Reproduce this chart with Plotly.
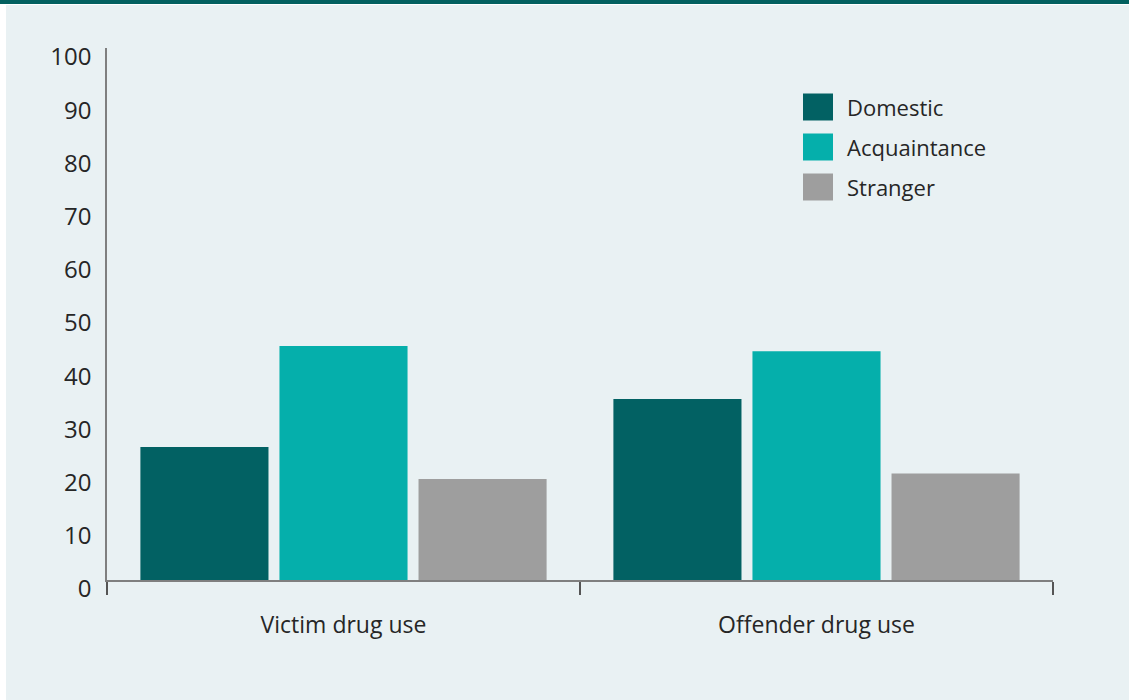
import plotly.graph_objects as go

categories = ["Victim drug use", "Offender drug use"]
series_names = ["Domestic", "Acquaintance", "Stranger"]
domestic = [25, 34]
acquaintance = [44, 43]
stranger = [19, 20]
series_values = [domestic, acquaintance, stranger]
colors = ["#026163", "#05afab", "#9e9e9e"]
y_ticks = list(range(0, 101, 10))

W, H = 1129, 700
L, R, T, B = 107, 76, 48, 120
PW, PH = W - L - R, H - T - B


def px_x(px):
    return (px - L) / PW


def px_y(py):
    return (H - B - py) / PH


fig = go.Figure()
for name, vals, col in zip(series_names, series_values, colors):
    fig.add_trace(go.Bar(x=categories, y=vals, name=name, marker_color=col,
                         marker_line_width=0, showlegend=False))

shapes = [
    dict(type="rect", xref="paper", yref="paper", x0=px_x(0), x1=px_x(6),
         y0=px_y(H), y1=px_y(0), fillcolor="#ffffff", line_width=0, layer="below"),
    dict(type="rect", xref="paper", yref="paper", x0=px_x(0), x1=px_x(W),
         y0=px_y(5), y1=px_y(4), fillcolor="#ffffff", line_width=0, layer="below"),
    dict(type="rect", xref="paper", yref="paper", x0=px_x(0), x1=px_x(W),
         y0=px_y(4), y1=px_y(0), fillcolor="#02605f", line_width=0, layer="below"),
]
annotations = []
leg_y = [107, 147, 187]
for name, col, cy in zip(series_names, colors, leg_y):
    shapes.append(dict(type="rect", xref="paper", yref="paper",
                       x0=px_x(803), x1=px_x(833), y0=px_y(cy + 13.5), y1=px_y(cy - 13.5),
                       fillcolor=col, line_width=0))
    annotations.append(dict(xref="paper", yref="paper", x=px_x(845), y=px_y(cy),
                            xanchor="left", yanchor="middle", text=name, showarrow=False,
                            font=dict(family="Open Sans", size=22, color="#262626")))

fig.update_layout(
    width=W, height=H,
    margin=dict(l=L, r=R, t=T, b=B, pad=0),
    paper_bgcolor="#e9f1f3",
    plot_bgcolor="#e9f1f3",
    barmode="group",
    bargap=0.118,
    bargroupgap=0.079,
    font=dict(family="Open Sans", size=22, color="#262626"),
    shapes=shapes,
    annotations=annotations,
    showlegend=False,
)
fig.update_xaxes(showline=True, linecolor="#7f7f7f", linewidth=1.5,
                 ticks="outside", tickson="boundaries", ticklen=13, tickcolor="#555555",
                 tickwidth=1.5, showgrid=False, ticklabelstandoff=24,
                 tickfont=dict(size=23, color="#262626"))
fig.update_yaxes(range=[0, 100], tickvals=y_ticks, showline=True, linecolor="#7f7f7f",
                 linewidth=1.5, ticks="", showgrid=False, zeroline=False,
                 ticklabelstandoff=9, ticklabelshift=9,
                 tickfont=dict(size=24, color="#262626"))

fig.write_html("out.html")
